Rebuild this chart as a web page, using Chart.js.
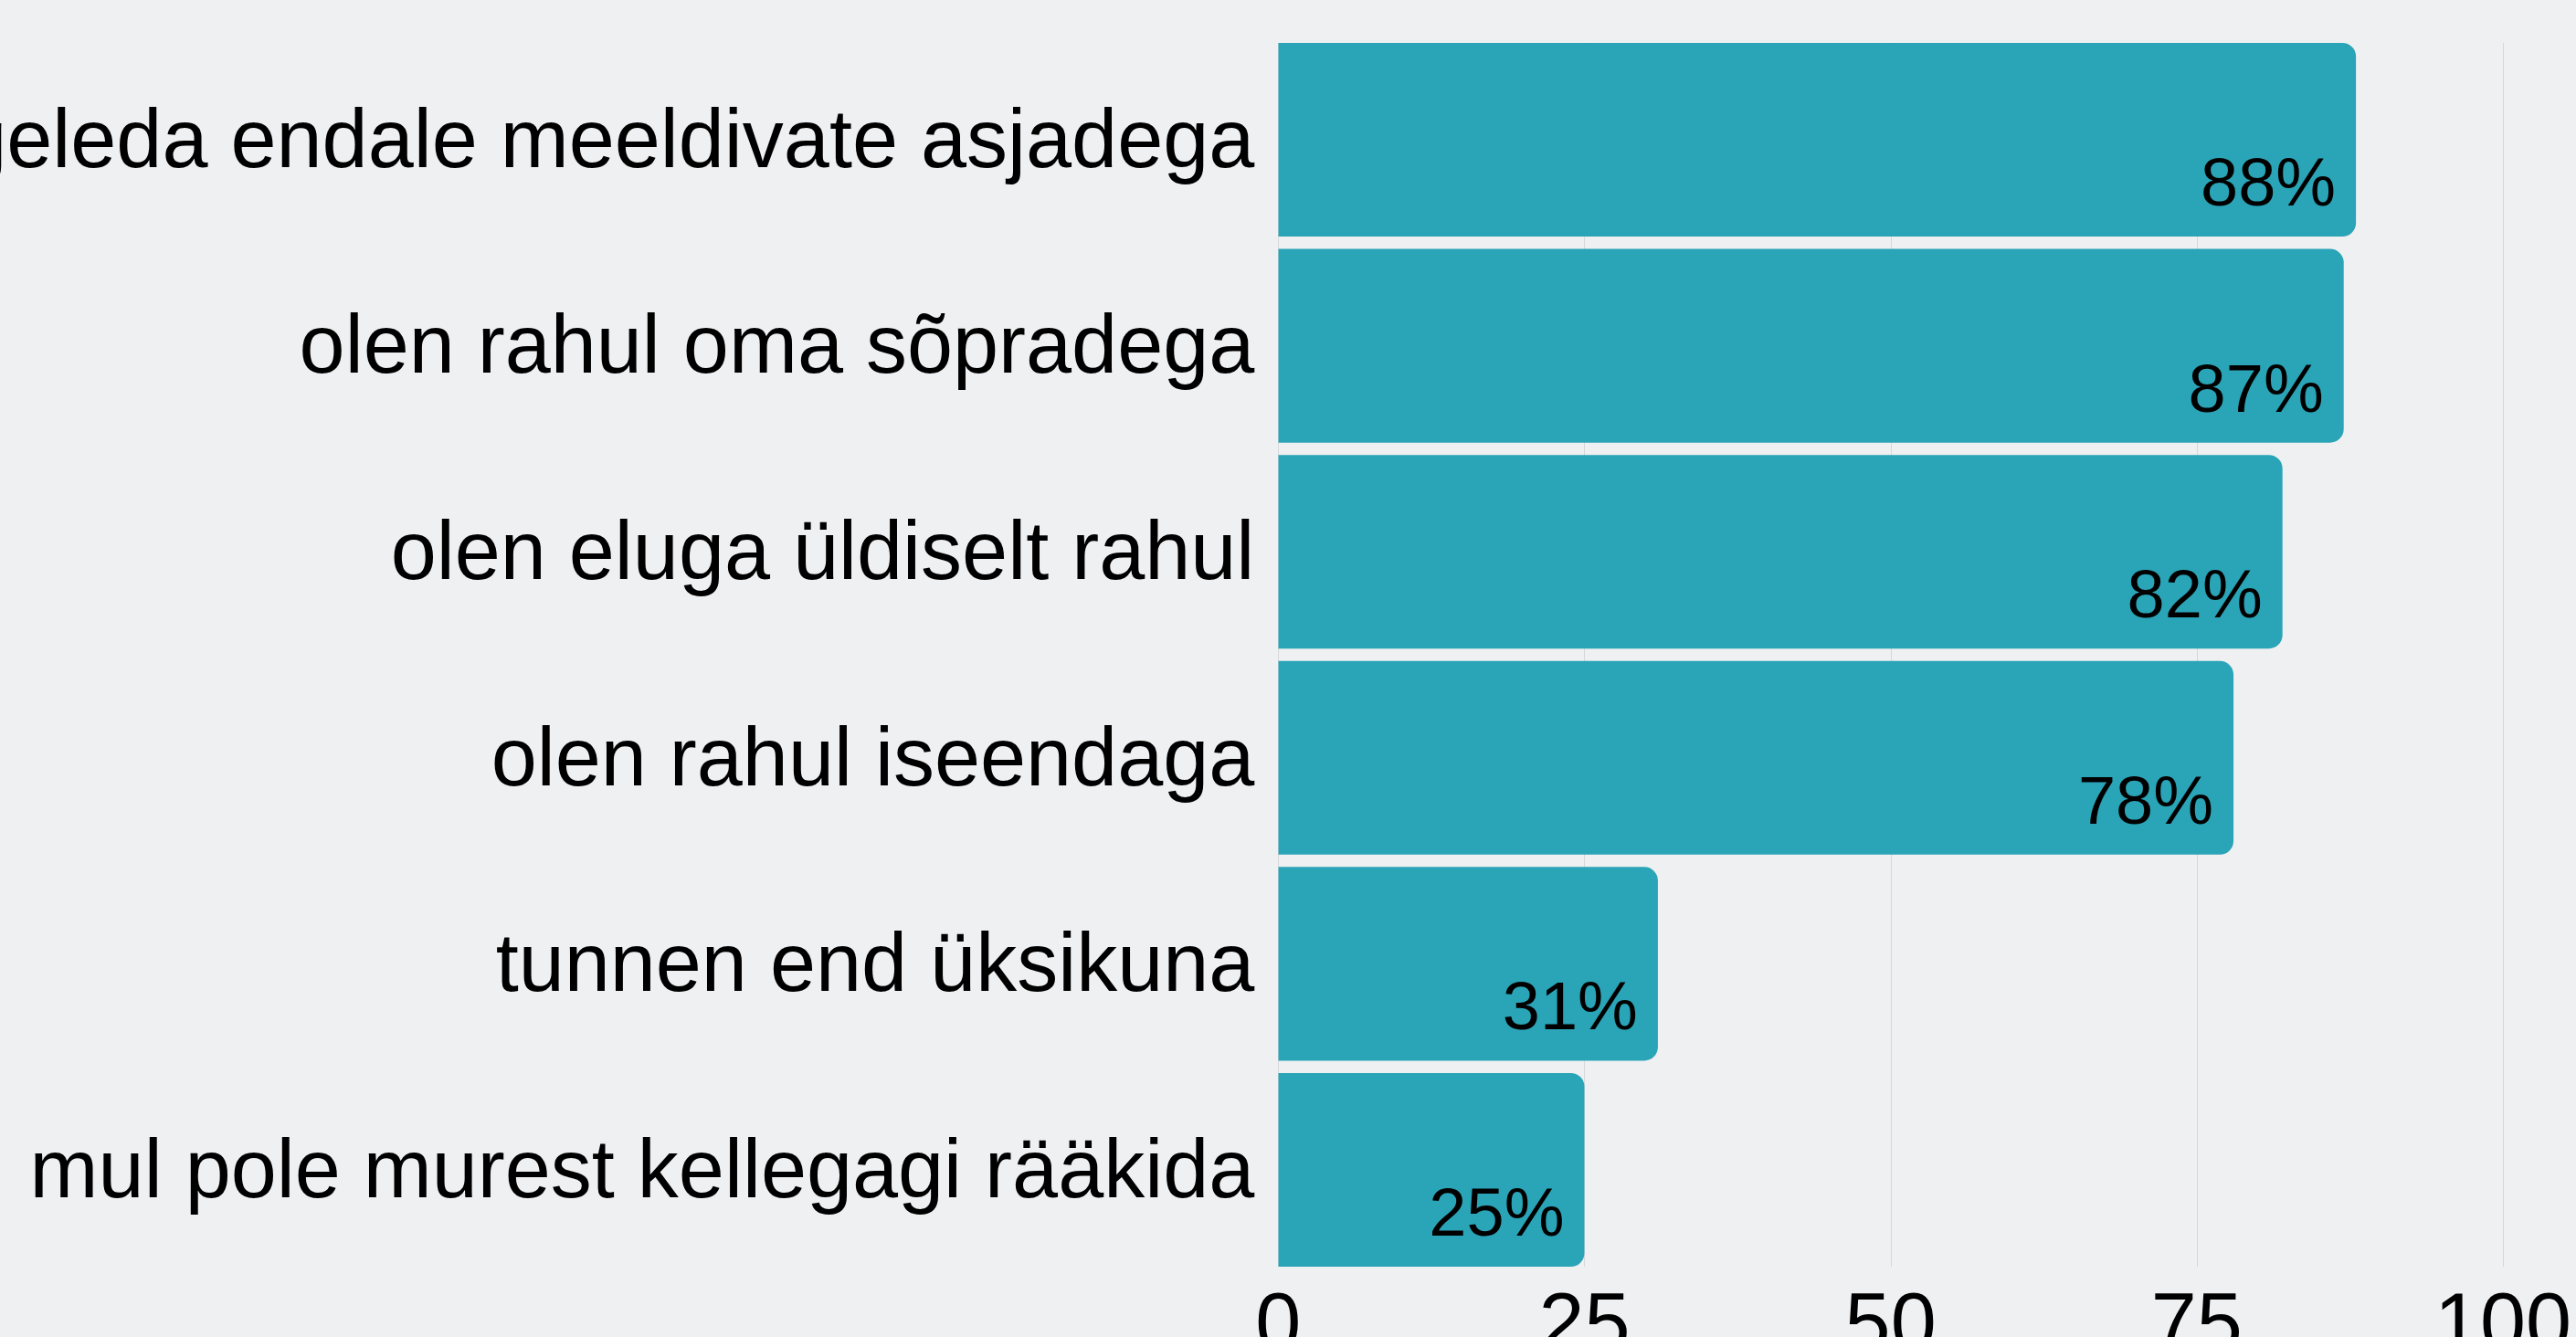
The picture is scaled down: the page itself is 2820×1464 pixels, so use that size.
<!DOCTYPE html>
<html>
<head>
<meta charset="utf-8">
<script src="https://cdn.jsdelivr.net/npm/chart.js@4.4.1/dist/chart.umd.min.js"></script>
<style>
  html, body { margin: 0; padding: 0; background: #eff0f2; overflow: hidden; }
  #wrap { width: 2820px; height: 1464px; position: relative; }
</style>
</head>
<body>
<div id="wrap"><canvas id="c"></canvas></div>
<script>
const categories = [
  "mul on piisavalt aega tegeleda endale meeldivate asjadega",
  "olen rahul oma sõpradega",
  "olen eluga üldiselt rahul",
  "olen rahul iseendaga",
  "tunnen end üksikuna",
  "mul pole murest kellegagi rääkida"
];
const values = [88, 87, 82, 78, 31, 25];
const valueLabels = ["88%", "87%", "82%", "78%", "31%", "25%"];
const xTicks = [0, 25, 50, 75, 100];

const FONT = '"Liberation Sans", Arial, sans-serif';

const bgPlugin = {
  id: 'bg',
  beforeDraw(chart) {
    const ctx = chart.ctx;
    ctx.save();
    ctx.fillStyle = '#eff0f2';
    ctx.fillRect(0, 0, chart.width, chart.height);
    ctx.restore();
  }
};

const gridPlugin = {
  id: 'customGrid',
  beforeDatasetsDraw(chart) {
    const meta = chart.getDatasetMeta(0);
    const bars = meta.data;
    if (!bars.length) return;
    const top = bars[0].y - bars[0].height / 2;
    const last = bars[bars.length - 1];
    const bottom = last.y + last.height / 2;
    const xs = chart.scales.x;
    const ctx = chart.ctx;
    ctx.save();
    ctx.strokeStyle = '#d6d7da';
    ctx.lineWidth = 1;
    xs.ticks.forEach(t => {
      const px = Math.round(xs.getPixelForValue(t.value)) + 0.5;
      ctx.beginPath();
      ctx.moveTo(px, top);
      ctx.lineTo(px, bottom);
      ctx.stroke();
    });
    ctx.restore();
  }
};

const labelPlugin = {
  id: 'valueLabels',
  afterDatasetsDraw(chart) {
    const meta = chart.getDatasetMeta(0);
    const ctx = chart.ctx;
    ctx.save();
    ctx.font = '74px ' + FONT;
    ctx.fillStyle = '#000';
    ctx.textAlign = 'right';
    ctx.textBaseline = 'alphabetic';
    meta.data.forEach((bar, i) => {
      ctx.fillText(valueLabels[i], bar.x - 22, bar.y + 72);
    });
    ctx.restore();
  }
};

new Chart(document.getElementById('c'), {
  type: 'bar',
  data: {
    labels: categories,
    datasets: [{
      data: values,
      backgroundColor: '#2aa4b7',
      borderWidth: 0,
      borderRadius: 15,
      borderSkipped: 'start',
      barPercentage: 0.94,
      categoryPercentage: 1.0
    }]
  },
  options: {
    indexAxis: 'y',
    responsive: true,
    maintainAspectRatio: false,
    animation: false,
    events: [],
    layout: { padding: { top: 40.2, right: 80, bottom: 0, left: 0 } },
    plugins: {
      legend: { display: false },
      tooltip: { enabled: false },
      title: { display: false }
    },
    scales: {
      x: {
        type: 'linear',
        min: 0,
        max: 100,
        afterBuildTicks(scale) {
          scale.ticks = xTicks.map(v => ({ value: v }));
        },
        grid: { display: false },
        border: { display: false },
        ticks: {
          color: '#000',
          font: { family: FONT, size: 90 },
          padding: -2,
          maxRotation: 0,
          autoSkip: false
        },
        afterFit(scale) { scale.height = 70.2; }
      },
      y: {
        grid: { display: false },
        border: { display: false },
        ticks: {
          color: '#000',
          font: { family: FONT, size: 90 },
          padding: 18,
          labelOffset: 5,
          autoSkip: false
        },
        afterFit(scale) {
          scale.width = 1399.3;
          scale.paddingTop = 0;
          scale.paddingBottom = 0;
        }
      }
    }
  },
  plugins: [bgPlugin, gridPlugin, labelPlugin]
});
</script>
</body>
</html>
